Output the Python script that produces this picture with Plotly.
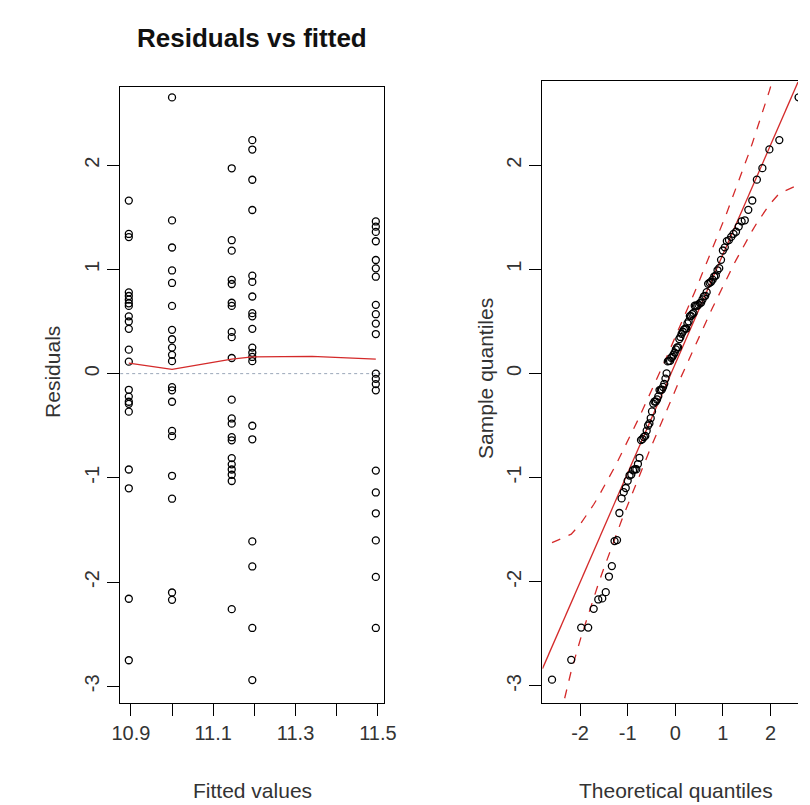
import numpy as np
import plotly.graph_objects as go
from statistics import NormalDist

# ---------------- data ----------------
fitted_levels = [10.895, 11.0, 11.145, 11.195, 11.495]

res_g1 = [1.66, 1.34, 1.31, 0.78, 0.745, 0.71, 0.675, 0.65, 0.55, 0.50, 0.43, 0.23, 0.115,
          -0.155, -0.22, -0.27, -0.29, -0.365, -0.92, -1.10, -2.16, -2.75]
res_g2 = [2.65, 1.47, 1.21, 0.99, 0.87, 0.65, 0.42, 0.33, 0.25, 0.18, 0.12,
          -0.13, -0.16, -0.27, -0.55, -0.60, -0.98, -1.20, -2.10, -2.17]
res_g3 = [1.97, 1.28, 1.18, 0.90, 0.86, 0.68, 0.65, 0.40, 0.35, 0.15,
          -0.25, -0.43, -0.48, -0.61, -0.64, -0.81, -0.87, -0.92, -0.97, -1.03, -2.26]
res_g4 = [2.24, 2.15, 1.86, 1.57, 0.94, 0.88, 0.74, 0.58, 0.55, 0.43, 0.25, 0.20, 0.16, 0.12,
          -0.50, -0.63, -1.61, -1.85, -2.44, -2.94]
res_g5 = [1.46, 1.41, 1.36, 1.27, 1.09, 1.01, 0.93, 0.66, 0.57, 0.48, 0.38,
          0.0, -0.05, -0.10, -0.16, -0.93, -1.14, -1.34, -1.60, -1.95, -2.44]

smooth_x = [10.895, 11.0, 11.145, 11.195, 11.34, 11.495]
smooth_y = [0.10, 0.04, 0.14, 0.16, 0.165, 0.14]

x_ticks_left = [10.9, 11.0, 11.1, 11.2, 11.3, 11.4, 11.5]
x_ticklabels_left = ["10.9", "", "11.1", "", "11.3", "", "11.5"]
y_ticks = [-3, -2, -1, 0, 1, 2]
y_ticklabels = ["-3", "-2", "-1", "0", "1", "2"]
x_ticks_right = [-2, -1, 0, 1, 2]
x_ticklabels_right = ["-2", "-1", "0", "1", "2"]

# ---------------- derived series ----------------
groups = [res_g1, res_g2, res_g3, res_g4, res_g5]
fx, res = [], []
for lvl, g in zip(fitted_levels, groups):
    fx += [lvl] * len(g)
    res += g
res = np.array(res)

nd = NormalDist()
n = len(res)
sample = np.sort(res)
p = (np.arange(1, n + 1) - 0.5) / n
z = np.array([nd.inv_cdf(v) for v in p])

q = np.quantile(res, [0.25, 0.75])
zq = np.array([nd.inv_cdf(0.25), nd.inv_cdf(0.75)])
slope = (q[1] - q[0]) / (zq[1] - zq[0])
intercept = q[0] - slope * zq[0]
fit = intercept + slope * z
dens = np.array([nd.pdf(v) for v in z])
se = (slope / dens) * np.sqrt(p * (1 - p) / n)
upper = fit + 1.96 * se
lower = fit - 1.96 * se

W, H = 810, 805
RED = "#d42a2a"
FONT = "Liberation Sans, Arial, sans-serif"

fig = go.Figure()

# left panel
fig.add_trace(go.Scatter(x=[10.874, 11.516], y=[0, 0], mode="lines",
                         line=dict(color="#9aa6b8", width=1, dash="dot"),
                         xaxis="x", yaxis="y", hoverinfo="skip"))
fig.add_trace(go.Scatter(x=fx, y=res, mode="markers",
                         marker=dict(symbol="circle-open", size=7, color="black",
                                     line=dict(width=1.3, color="black")),
                         xaxis="x", yaxis="y"))
fig.add_trace(go.Scatter(x=smooth_x, y=smooth_y, mode="lines",
                         line=dict(color=RED, width=1.3), xaxis="x", yaxis="y"))

# right panel
xline = np.array([-2.79, 2.578])
fig.add_trace(go.Scatter(x=xline, y=intercept + slope * xline, mode="lines",
                         line=dict(color=RED, width=1.3), xaxis="x2", yaxis="y2"))
fig.add_trace(go.Scatter(x=z, y=upper, mode="lines",
                         line=dict(color=RED, width=1.3, dash="dash"), xaxis="x2", yaxis="y2"))
fig.add_trace(go.Scatter(x=z, y=lower, mode="lines",
                         line=dict(color=RED, width=1.3, dash="dash"), xaxis="x2", yaxis="y2"))
fig.add_trace(go.Scatter(x=z, y=sample, mode="markers",
                         marker=dict(symbol="circle-open", size=7, color="black",
                                     line=dict(width=1.3, color="black")),
                         xaxis="x2", yaxis="y2"))

axis_common = dict(showgrid=False, zeroline=False, showline=True, linecolor="black",
                   linewidth=1.3, ticks="outside", ticklen=12, tickcolor="black",
                   tickwidth=1.2, tickfont=dict(family=FONT, size=20, color="#333"))

def ydom(top, bottom):
    return [(H - bottom) / H, (H - top) / H]

fig.update_layout(
    width=W, height=H, margin=dict(l=0, r=0, t=0, b=0),
    paper_bgcolor="white", plot_bgcolor="white", showlegend=False,
    xaxis=dict(domain=[115 / W, 386 / W], range=[10.874, 11.516], tickvals=x_ticks_left,
               ticktext=x_ticklabels_left, mirror=True, anchor="y", **axis_common),
    yaxis=dict(domain=ydom(87, 703), range=[-3.16, 2.75], tickvals=y_ticks,
               ticktext=y_ticklabels, tickangle=-90, mirror=True, anchor="x", **axis_common),
    xaxis2=dict(domain=[548 / W, 1.0], range=[-2.79, 2.578], tickvals=x_ticks_right,
                ticktext=x_ticklabels_right, mirror=True, anchor="y2", **axis_common),
    yaxis2=dict(domain=ydom(81, 703), range=[-3.164, 2.807], tickvals=y_ticks,
                ticktext=y_ticklabels, tickangle=-90, mirror=False, anchor="x2", **axis_common),
)

def ann(text, x, y, size, angle=0, bold=False, color="#333"):
    fig.add_annotation(text=f"<b>{text}</b>" if bold else text, x=x / W, y=1 - y / H,
                       xref="paper", yref="paper", showarrow=False, textangle=angle,
                       font=dict(family=FONT, size=size, color=color),
                       xanchor="center", yanchor="middle")

ann("Residuals vs fitted", 250, 38, 26, bold=True, color="#111")
ann("Fitted values", 251, 790, 21)
ann("Theoretical quantiles", 685, 790, 21)
ann("Residuals", 45, 372, 21, angle=-90)
ann("Sample quantiles", 490, 378, 21, angle=-90)

fig.write_html("out.html")
